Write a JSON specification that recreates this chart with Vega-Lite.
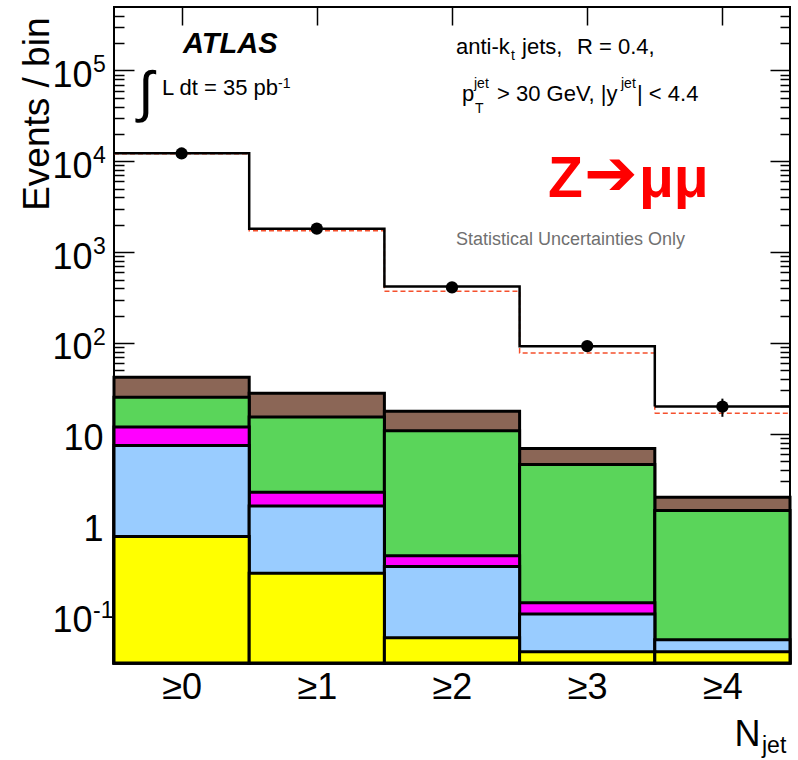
{
  "$schema": "https://vega.github.io/schema/vega-lite/v6.json",
  "width": 676,
  "height": 656,
  "autosize": {"type": "none"},
  "padding": {"left": 114, "top": 7, "right": 8, "bottom": 97},
  "background": "white",
  "config": {
    "view": {"stroke": "black", "strokeWidth": 2},
    "font": "Liberation Sans",
    "axis": {"domain": false, "grid": false, "tickColor": "black", "tickWidth": 1.5, "labelFont": "Liberation Sans", "titleFont": "Liberation Sans", "labelColor": "black", "titleColor": "black", "titleFontWeight": "normal", "zindex": 1, "labelFlush": false, "labelOverlap": false},
    "text": {"font": "Liberation Sans", "color": "black"}
  },
  "datasets": {
    "stack": [
      {"comp": "A", "lo": -0.5, "hi": 0.5, "top": 42},
      {"comp": "A", "lo": 0.5, "hi": 1.5, "top": 28},
      {"comp": "A", "lo": 1.5, "hi": 2.5, "top": 17.7},
      {"comp": "A", "lo": 2.5, "hi": 3.5, "top": 6.9},
      {"comp": "A", "lo": 3.5, "hi": 4.5, "top": 2.0},
      {"comp": "B", "lo": -0.5, "hi": 0.5, "top": 25.2},
      {"comp": "B", "lo": 0.5, "hi": 1.5, "top": 15.3},
      {"comp": "B", "lo": 1.5, "hi": 2.5, "top": 10.8},
      {"comp": "B", "lo": 2.5, "hi": 3.5, "top": 4.6},
      {"comp": "B", "lo": 3.5, "hi": 4.5, "top": 1.43},
      {"comp": "C", "lo": -0.5, "hi": 0.5, "top": 11.9},
      {"comp": "C", "lo": 0.5, "hi": 1.5, "top": 2.28},
      {"comp": "C", "lo": 1.5, "hi": 2.5, "top": 0.455},
      {"comp": "C", "lo": 2.5, "hi": 3.5, "top": 0.138},
      {"comp": "D", "lo": -0.5, "hi": 0.5, "top": 7.45},
      {"comp": "D", "lo": 0.5, "hi": 1.5, "top": 1.61},
      {"comp": "D", "lo": 1.5, "hi": 2.5, "top": 0.347},
      {"comp": "D", "lo": 2.5, "hi": 3.5, "top": 0.104},
      {"comp": "D", "lo": 3.5, "hi": 4.5, "top": 0.054},
      {"comp": "E", "lo": -0.5, "hi": 0.5, "top": 0.74},
      {"comp": "E", "lo": 0.5, "hi": 1.5, "top": 0.292},
      {"comp": "E", "lo": 1.5, "hi": 2.5, "top": 0.057},
      {"comp": "E", "lo": 2.5, "hi": 3.5, "top": 0.04},
      {"comp": "E", "lo": 3.5, "hi": 4.5, "top": 0.04}
    ],
    "bins": [
      {"n": 0, "lo": -0.5, "hi": 0.5, "mc": 12300, "sig": 12150, "data": 12200, "elo": 12090, "ehi": 12310},
      {"n": 1, "lo": 0.5, "hi": 1.5, "mc": 1815, "sig": 1726, "data": 1815, "elo": 1772, "ehi": 1858},
      {"n": 2, "lo": 1.5, "hi": 2.5, "mc": 420, "sig": 372, "data": 409, "elo": 389, "ehi": 429},
      {"n": 3, "lo": 2.5, "hi": 3.5, "mc": 92, "sig": 77.6, "data": 92.5, "elo": 82.9, "ehi": 102.1},
      {"n": 4, "lo": 3.5, "hi": 4.5, "mc": 20, "sig": 16.9, "data": 19.9, "elo": 15.4, "ehi": 24.4}
    ],
    "exps": [
      {"v": 100000, "e": "5"},
      {"v": 10000, "e": "4"},
      {"v": 1000, "e": "3"},
      {"v": 100, "e": "2"},
      {"v": 0.1, "e": "-1"}
    ],
    "one": [{}]
  },
  "resolve": {"axis": {"x": "independent", "y": "independent"}},
  "layer": [
    {
      "data": {"name": "stack"},
      "mark": {"type": "rect", "stroke": "black", "strokeWidth": 3},
      "encoding": {
        "x": {"field": "lo", "type": "quantitative", "scale": {"type": "linear", "domain": [-0.5, 4.5], "nice": false, "zero": false},
          "axis": {"orient": "bottom", "values": [0, 1, 2, 3, 4], "tickSize": -20, "labelExpr": "'≥' + datum.value", "labelFontSize": 36, "labelPadding": 27, "labelBaseline": "top", "title": "N", "titleFontSize": 36, "titleX": 646, "titleY": 82, "titleAlign": "right", "titleBaseline": "alphabetic"}},
        "x2": {"field": "hi"},
        "y": {"field": "top", "type": "quantitative", "scale": {"type": "log", "domain": [0.03, 500000], "nice": false},
          "axis": {"orient": "left", "values": [0.1, 100, 1000, 10000, 100000], "tickSize": -20, "labelExpr": "'10'", "labelFontSize": 36, "labelPadding": 42, "labelOffset": 5, "labelAlign": "right", "labelBaseline": "middle", "title": "Events / bin", "titleFontSize": 37, "titleX": -66, "titleY": 10, "titleAlign": "right", "titleBaseline": "alphabetic", "titleAngle": 270}},
        "y2": {"datum": 0.03},
        "color": {"field": "comp", "type": "nominal", "scale": {"domain": ["A", "B", "C", "D", "E"], "range": ["#8b6656", "#5ad55a", "#ff00ff", "#99ccff", "#ffff00"]}, "legend": null}
      }
    },
    {
      "data": {"name": "bins"},
      "mark": {"type": "line", "interpolate": "step-after", "color": "#f5502d", "strokeWidth": 1.5, "strokeDash": [5, 3]},
      "encoding": {
        "x": {"field": "lo", "type": "quantitative", "axis": null},
        "y": {"field": "sig", "type": "quantitative", "axis": {"orient": "right", "values": [0.1, 1, 10, 100, 1000, 10000, 100000], "tickSize": -20, "labels": false, "title": null}}
      }
    },
    {
      "data": {"name": "bins"},
      "transform": [{"filter": "datum.n == 4"}],
      "mark": {"type": "rule", "color": "#f5502d", "strokeWidth": 1.5, "strokeDash": [5, 3]},
      "encoding": {
        "x": {"field": "lo", "type": "quantitative", "axis": null},
        "x2": {"field": "hi"},
        "y": {"field": "sig", "type": "quantitative", "axis": {"orient": "right", "values": [0.04,0.05,0.06,0.07,0.08,0.09,0.2,0.3,0.4,0.5,0.6,0.7,0.8,0.9,2,3,4,5,6,7,8,9,20,30,40,50,60,70,80,90,200,300,400,500,600,700,800,900,2000,3000,4000,5000,6000,7000,8000,9000,20000,30000,40000,50000,60000,70000,80000,90000,200000,300000,400000], "tickSize": -10, "labels": false, "title": null}}
      }
    },
    {
      "data": {"name": "bins"},
      "mark": {"type": "line", "interpolate": "step-after", "color": "black", "strokeWidth": 2.5},
      "encoding": {
        "x": {"field": "lo", "type": "quantitative", "axis": {"orient": "top", "values": [0, 1, 2, 3, 4], "tickSize": -18, "labels": false, "title": null}},
        "y": {"field": "mc", "type": "quantitative", "axis": {"orient": "left", "values": [1, 10], "tickSize": -20, "labelExpr": "datum.value == 1 ? '1' : '10'", "labelFontSize": 36, "labelPadding": 31, "labelOffset": 5, "labelAlign": "right", "labelBaseline": "middle", "title": null}}
      }
    },
    {
      "data": {"name": "bins"},
      "transform": [{"filter": "datum.n == 4"}],
      "mark": {"type": "rule", "color": "black", "strokeWidth": 2.5},
      "encoding": {
        "x": {"field": "lo", "type": "quantitative", "axis": null},
        "x2": {"field": "hi"},
        "y": {"field": "mc", "type": "quantitative", "axis": {"orient": "left", "values": [0.04,0.05,0.06,0.07,0.08,0.09,0.2,0.3,0.4,0.5,0.6,0.7,0.8,0.9,2,3,4,5,6,7,8,9,20,30,40,50,60,70,80,90,200,300,400,500,600,700,800,900,2000,3000,4000,5000,6000,7000,8000,9000,20000,30000,40000,50000,60000,70000,80000,90000,200000,300000,400000], "tickSize": -10, "labels": false, "title": null}}
      }
    },
    {
      "data": {"name": "bins"},
      "mark": {"type": "rule", "color": "black", "strokeWidth": 2},
      "encoding": {
        "x": {"field": "n", "type": "quantitative", "axis": null},
        "y": {"field": "elo", "type": "quantitative", "axis": null},
        "y2": {"field": "ehi"}
      }
    },
    {
      "data": {"name": "bins"},
      "mark": {"type": "point", "filled": true, "color": "black", "opacity": 1, "size": 150, "shape": "circle"},
      "encoding": {
        "x": {"field": "n", "type": "quantitative", "axis": null},
        "y": {"field": "data", "type": "quantitative", "axis": null}
      }
    },
    {
      "data": {"name": "exps"},
      "mark": {"type": "text", "align": "left", "baseline": "alphabetic", "fontSize": 23, "dx": -21, "dy": 2},
      "encoding": {
        "x": {"datum": -0.5, "type": "quantitative", "axis": null},
        "y": {"field": "v", "type": "quantitative", "axis": null},
        "text": {"field": "e"}
      }
    },
    {
      "data": {"name": "one"},
      "mark": {"type": "text", "text": "ATLAS", "fontSize": 29, "fontWeight": "bold", "fontStyle": "italic", "align": "left", "baseline": "alphabetic"},
      "encoding": {"x": {"datum": 0.0104, "type": "quantitative", "axis": null}, "y": {"datum": 155700, "type": "quantitative", "axis": null}}
    },
    {
      "data": {"name": "one"},
      "mark": {"type": "text", "text": "∫", "fontSize": 56, "align": "center", "baseline": "alphabetic"},
      "encoding": {"x": {"datum": -0.2633, "type": "quantitative", "axis": null}, "y": {"datum": 35790, "type": "quantitative", "axis": null}}
    },
    {
      "data": {"name": "one"},
      "mark": {"type": "text", "text": "L dt = 35 pb", "fontSize": 22, "align": "left", "baseline": "alphabetic"},
      "encoding": {"x": {"datum": -0.145, "type": "quantitative", "axis": null}, "y": {"datum": 53690, "type": "quantitative", "axis": null}}
    },
    {
      "data": {"name": "one"},
      "mark": {"type": "text", "text": "-1", "fontSize": 14, "align": "left", "baseline": "alphabetic"},
      "encoding": {"x": {"datum": 0.713, "type": "quantitative", "axis": null}, "y": {"datum": 64120, "type": "quantitative", "axis": null}}
    },
    {
      "data": {"name": "one"},
      "mark": {"type": "text", "text": "anti-k", "fontSize": 22, "align": "left", "baseline": "alphabetic"},
      "encoding": {"x": {"datum": 2.0296, "type": "quantitative", "axis": null}, "y": {"datum": 151800, "type": "quantitative", "axis": null}}
    },
    {
      "data": {"name": "one"},
      "mark": {"type": "text", "text": "t", "fontSize": 14, "align": "left", "baseline": "alphabetic"},
      "encoding": {"x": {"datum": 2.4364, "type": "quantitative", "axis": null}, "y": {"datum": 130400, "type": "quantitative", "axis": null}}
    },
    {
      "data": {"name": "one"},
      "mark": {"type": "text", "text": "jets,", "fontSize": 22, "align": "left", "baseline": "alphabetic"},
      "encoding": {"x": {"datum": 2.5178, "type": "quantitative", "axis": null}, "y": {"datum": 151800, "type": "quantitative", "axis": null}}
    },
    {
      "data": {"name": "one"},
      "mark": {"type": "text", "text": "R = 0.4,", "fontSize": 22, "align": "left", "baseline": "alphabetic"},
      "encoding": {"x": {"datum": 2.9246, "type": "quantitative", "axis": null}, "y": {"datum": 151800, "type": "quantitative", "axis": null}}
    },
    {
      "data": {"name": "one"},
      "mark": {"type": "text", "text": "p", "fontSize": 22, "align": "left", "baseline": "alphabetic"},
      "encoding": {"x": {"datum": 2.074, "type": "quantitative", "axis": null}, "y": {"datum": 46100, "type": "quantitative", "axis": null}}
    },
    {
      "data": {"name": "one"},
      "mark": {"type": "text", "text": "jet", "fontSize": 14, "align": "left", "baseline": "alphabetic"},
      "encoding": {"x": {"datum": 2.1627, "type": "quantitative", "axis": null}, "y": {"datum": 64120, "type": "quantitative", "axis": null}}
    },
    {
      "data": {"name": "one"},
      "mark": {"type": "text", "text": "T", "fontSize": 14, "align": "left", "baseline": "alphabetic"},
      "encoding": {"x": {"datum": 2.1701, "type": "quantitative", "axis": null}, "y": {"datum": 34010, "type": "quantitative", "axis": null}}
    },
    {
      "data": {"name": "one"},
      "mark": {"type": "text", "text": "> 30 GeV, |y", "fontSize": 22, "align": "left", "baseline": "alphabetic"},
      "encoding": {"x": {"datum": 2.3328, "type": "quantitative", "axis": null}, "y": {"datum": 46100, "type": "quantitative", "axis": null}}
    },
    {
      "data": {"name": "one"},
      "mark": {"type": "text", "text": "jet", "fontSize": 14, "align": "left", "baseline": "alphabetic"},
      "encoding": {"x": {"datum": 3.25, "type": "quantitative", "axis": null}, "y": {"datum": 64120, "type": "quantitative", "axis": null}}
    },
    {
      "data": {"name": "one"},
      "mark": {"type": "text", "text": "| < 4.4", "fontSize": 22, "align": "left", "baseline": "alphabetic"},
      "encoding": {"x": {"datum": 3.3683, "type": "quantitative", "axis": null}, "y": {"datum": 46100, "type": "quantitative", "axis": null}}
    },
    {
      "data": {"name": "one"},
      "mark": {"type": "text", "text": "Z", "fontSize": 57, "fontWeight": "bold", "color": "#ff0000", "align": "left", "baseline": "alphabetic"},
      "encoding": {"x": {"datum": 2.7101, "type": "quantitative", "axis": null}, "y": {"datum": 4046, "type": "quantitative", "axis": null}}
    },
    {
      "data": {"name": "one"},
      "mark": {"type": "text", "text": "➔", "font": "DejaVu Sans", "fontSize": 64, "color": "#ff0000", "align": "left", "baseline": "alphabetic"},
      "encoding": {"x": {"datum": 2.9763, "type": "quantitative", "axis": null}, "y": {"datum": 4256, "type": "quantitative", "axis": null}}
    },
    {
      "data": {"name": "one"},
      "mark": {"type": "text", "text": "μμ", "fontSize": 57, "fontWeight": "bold", "color": "#ff0000", "align": "left", "baseline": "alphabetic"},
      "encoding": {"x": {"datum": 3.3831, "type": "quantitative", "axis": null}, "y": {"datum": 4046, "type": "quantitative", "axis": null}}
    },
    {
      "data": {"name": "one"},
      "mark": {"type": "text", "text": "Statistical Uncertainties Only", "fontSize": 18, "color": "#707070", "align": "left", "baseline": "alphabetic"},
      "encoding": {"x": {"datum": 2.0296, "type": "quantitative", "axis": null}, "y": {"datum": 1198, "type": "quantitative", "axis": null}}
    },
    {
      "data": {"name": "one"},
      "mark": {"type": "text", "text": "jet", "fontSize": 23, "align": "left", "baseline": "alphabetic", "dx": -28, "dy": 90},
      "encoding": {"x": {"datum": 4.5, "type": "quantitative", "axis": null}, "y": {"datum": 0.03, "type": "quantitative", "axis": null}}
    }
  ]
}
